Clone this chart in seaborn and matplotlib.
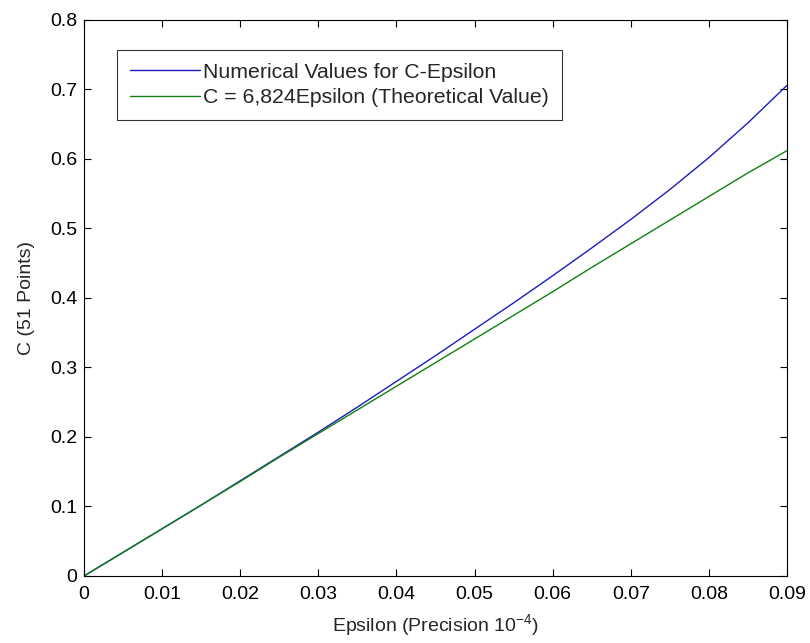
import numpy as np
import pandas as pd
import seaborn as sns
import matplotlib
matplotlib.use('Agg')
import matplotlib.pyplot as plt

epsilon = [0, 0.005, 0.01, 0.015, 0.02, 0.025, 0.03, 0.035, 0.04, 0.045,
           0.05, 0.055, 0.06, 0.065, 0.07, 0.075, 0.08, 0.085, 0.09]
c_numerical = [0, 0.034, 0.068, 0.102, 0.137, 0.172, 0.207, 0.243, 0.280, 0.317,
               0.355, 0.393, 0.432, 0.472, 0.513, 0.556, 0.602, 0.652, 0.706]
c_theory = [0, 0.034, 0.068, 0.102, 0.136, 0.171, 0.205, 0.239, 0.273, 0.307,
            0.341, 0.375, 0.409, 0.444, 0.478, 0.512, 0.546, 0.580, 0.612]

label_num = 'Numerical Values for C-Epsilon'
label_th = 'C = 6,824Epsilon (Theoretical Value)'

df = pd.DataFrame({
    'eps': epsilon * 2,
    'C': c_numerical + c_theory,
    'series': [label_num] * len(epsilon) + [label_th] * len(epsilon),
})

sns.set_style('ticks')
plt.rcParams['font.family'] = ['Liberation Sans', 'DejaVu Sans']
plt.rcParams['mathtext.fontset'] = 'custom'
plt.rcParams['mathtext.rm'] = 'Liberation Sans'

fig = plt.figure(figsize=(8.1, 6.43), dpi=100)
ax = fig.add_axes([0.1037, 0.1042, 0.8679, 0.8647])

sns.lineplot(data=df, x='eps', y='C', hue='series',
             palette={label_num: '#1c1cc0', label_th: '#108010'},
             linewidth=1.0, ax=ax)

ax.set_xlim(0, 0.09)
ax.set_ylim(0, 0.8)
ax.set_xticks(np.arange(0, 0.0901, 0.01))
ax.set_xticklabels(['0', '0.01', '0.02', '0.03', '0.04', '0.05', '0.06', '0.07', '0.08', '0.09'])
ax.set_yticks(np.arange(0, 0.801, 0.1))
ax.set_yticklabels(['0', '0.1', '0.2', '0.3', '0.4', '0.5', '0.6', '0.7', '0.8'])
ax.tick_params(direction='in', top=True, right=True, length=5, width=0.8,
               labelsize=14, colors='black')
ax.tick_params(axis='x', pad=7)
ax.tick_params(axis='y', pad=5)
for s in ax.spines.values():
    s.set_visible(True)
    s.set_linewidth(0.8)
    s.set_color('black')

ax.set_xlabel(r'Epsilon (Precision $\mathregular{10^{-4}}$)', fontsize=14, labelpad=7)
ax.set_ylabel('C (51 Points)', fontsize=14, labelpad=11)

leg = ax.legend(loc='upper left', bbox_to_anchor=(0.047, 0.946), fontsize=15.3,
                frameon=True, fancybox=False, edgecolor='black', handlelength=3.3,
                handletextpad=0.15, borderpad=0.6, labelspacing=0.3,
                borderaxespad=0)
leg.get_frame().set_linewidth(0.8)
leg.set_title(None)

plt.savefig('out.png', dpi=100)
